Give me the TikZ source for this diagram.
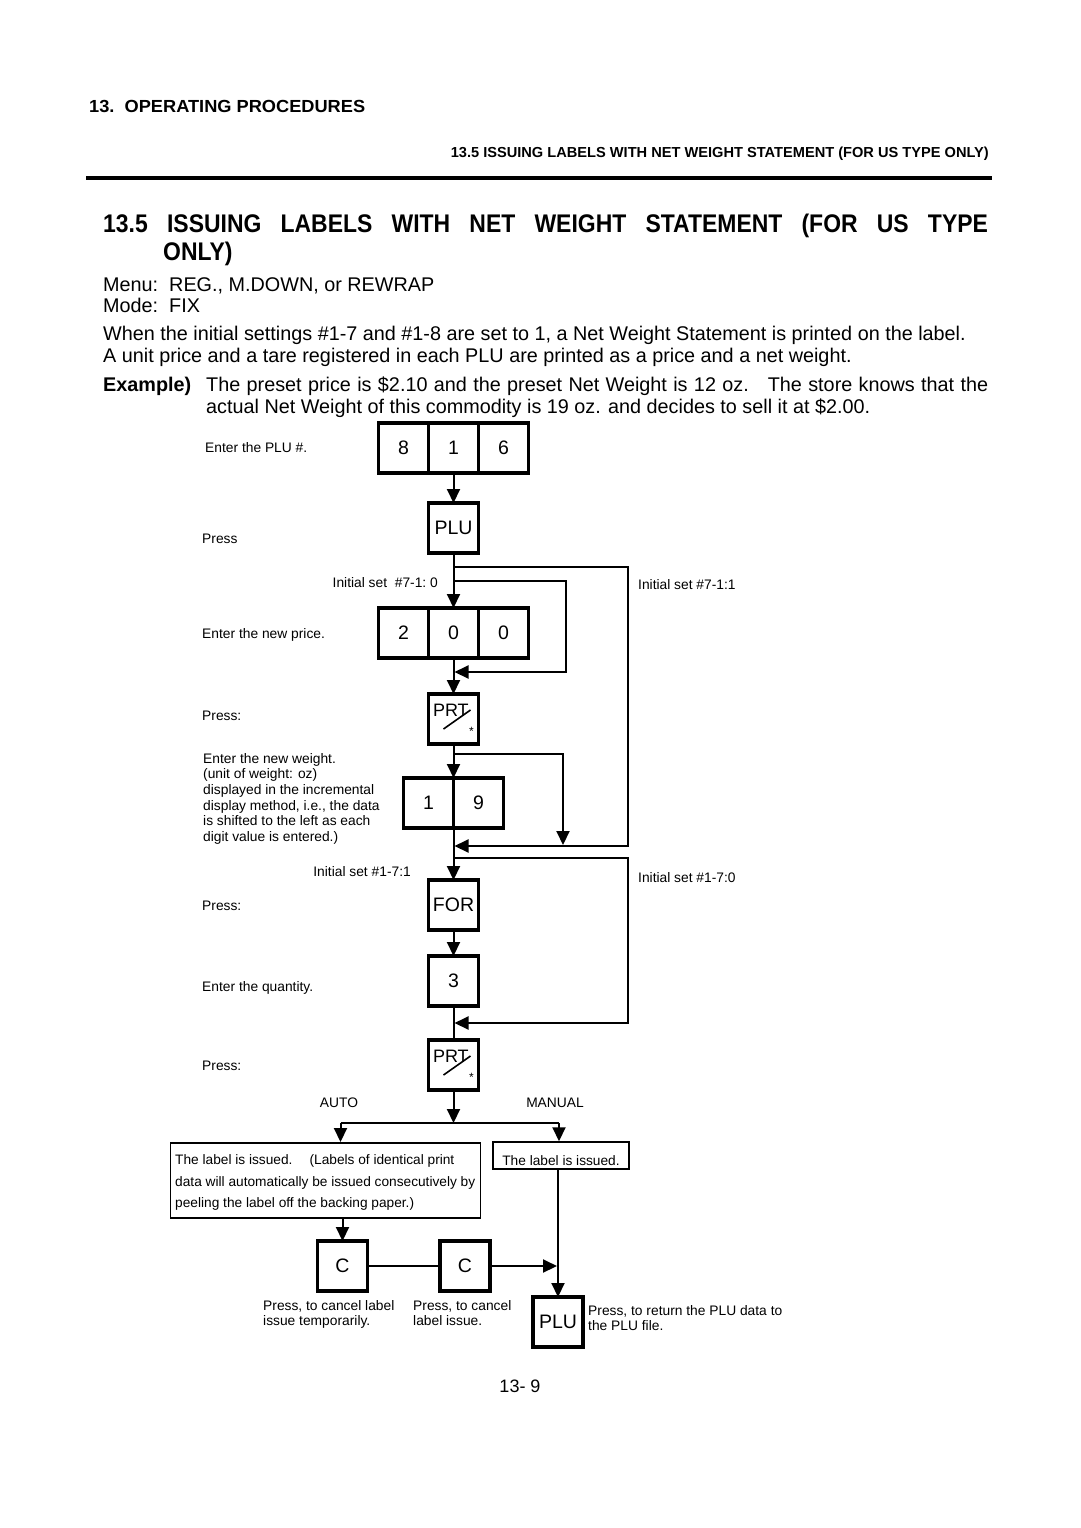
\documentclass[tikz,border=0pt]{standalone}
\usepackage{fontspec}
\setmainfont{Liberation Sans}
\usepackage{graphicx}
\usetikzlibrary{arrows.meta, positioning, calc}

\newcommand{\bodyfont}{\fontsize{19.8}{22}\selectfont}
\newcommand{\notefont}{\fontsize{13.8}{15.6}\selectfont}
\newcommand{\keyfont}{\fontsize{19.5}{19.5}\selectfont}

\begin{document}
\begin{tikzpicture}[x=1pt, y=-1pt,
    key/.style={draw, line width=3.2pt, minimum width=50pt, minimum height=50pt, inner sep=0pt, outer sep=0pt, font=\keyfont},
    prtkey/.style={key, path picture={
        \node[draw=none, minimum size=0pt, anchor=base west, inner sep=0pt, font=\fontsize{18}{18}\selectfont] at ([shift={(4.5pt,-22pt)}]path picture bounding box.north west) {PRT};
        \draw[line width=1.6pt] ([shift={(15pt,15pt)}]path picture bounding box.south west) -- ([shift={(42pt,34pt)}]path picture bounding box.south west);
        \node[draw=none, minimum size=0pt, inner sep=0pt, font=\fontsize{12}{12}\selectfont] at ([shift={(43pt,13pt)}]path picture bounding box.south west) {*};
    }},
    note/.style={anchor=base west, inner sep=0pt, font=\notefont},
    body/.style={anchor=base west, inner sep=0pt, font=\bodyfont},
    msgbox/.style={draw, line width=1.5pt, inner sep=0pt, font=\fontsize{13.7}{21.5}\selectfont, align=left},
    flow/.style={line width=2pt},
    tip/.style={flow, -{Triangle[width=13pt,length=14pt]}}
]
    \fill[white] (0,0) rectangle (1080,1528);
    \useasboundingbox (0,0) rectangle (1080,1528);

    % Page heading
    \node (chap) [anchor=base west, inner sep=0pt] at (89,112) {\resizebox{276pt}{\height}{\fontsize{17.5}{17.5}\selectfont\bfseries 13.\ \ OPERATING PROCEDURES}};
    \node (sect) [anchor=base east, inner sep=0pt] at (989,157) {\resizebox{538pt}{\height}{\fontsize{14.5}{14.5}\selectfont\bfseries 13.5 ISSUING LABELS WITH NET WEIGHT STATEMENT (FOR US TYPE ONLY)}};
    \draw[line width=4.5pt] (86,178) -- (992,178);

    % Section title and text
    \node (title) [anchor=base west, inner sep=0pt] at (103,232) {\scalebox{0.9}[1]{\makebox[983pt][s]{\fontsize{25.5}{25.5}\selectfont\bfseries 13.5 ISSUING LABELS WITH NET WEIGHT STATEMENT (FOR US TYPE}}};
    \node (title2) [anchor=base west, inner sep=0pt] at (163,260) {\scalebox{0.9}[1]{\fontsize{25.5}{25.5}\selectfont\bfseries ONLY)}};
    \node (menu) [body] at (103,291) {Menu:\ \ REG., M.DOWN, or REWRAP};
    \node (mode) [body] at (103,312) {Mode:\ \ FIX};
    \node (when) [body] at (103,340) {When the initial settings \#1-7 and \#1-8 are set to 1, a Net Weight Statement is printed on the label.};
    \node (unit) [body] at (103,362) {A unit price and a tare registered in each PLU are printed as a price and a net weight.};
    \node (exlbl) [body, font=\bodyfont\bfseries] at (103,391) {Example)};
    \node (ex1) [body] at (206,391) {\makebox[782pt][s]{The preset price is \$2.10 and the preset Net Weight is 12 oz.\ \ \ The store knows that the}};
    \node (ex2) [body] at (206,413) {actual Net Weight of this commodity is 19 oz. and decides to sell it at \$2.00.};

    % Keys
    \node (k8) [key] at (403.5,448) {8};
    \node (k1) [key] at (453.5,448) {1};
    \node (k6) [key] at (503.5,448) {6};
    \node (plu) [key] at (453.5,528) {PLU};
    \node (k2) [key] at (403.5,633) {2};
    \node (k0a) [key] at (453.5,633) {0};
    \node (k0b) [key] at (503.5,633) {0};
    \node (prt1) [prtkey] at (453.5,719) {};
    \node (k19a) [key] at (428.5,803) {1};
    \node (k19b) [key] at (478.5,803) {9};
    \node (for) [key] at (453.5,905) {FOR};
    \node (k3) [key] at (453.5,981) {3};
    \node (prt2) [prtkey] at (453.5,1065) {};
    \node (auto) [msgbox, anchor=north west, minimum width=310pt, minimum height=75pt, inner xsep=4pt] at (169.5,1142) {\rule{0pt}{15pt}The label is issued.\hspace{1.25em}(Labels of identical print\\data will automatically be issued consecutively by\\peeling the label off the backing paper.)};
    \node (manual) [msgbox, minimum width=136pt, minimum height=27pt, text height=19pt, text depth=0pt] at (561,1155.5) {The label is issued.};
    \node (c1) [key] at (342.5,1266) {C};
    \node (c2) [key] at (465,1266) {C};
    \node (plu2) [key] at (558,1322) {PLU};

    % Left hand notes
    \node (n_plu) [note] at (205,452) {Enter the PLU \#.};
    \node (n_press1) [note] at (202,543) {Press};
    \node (n_price) [note] at (202,638) {Enter the new price.};
    \node (n_press2) [note] at (202,720) {Press:};
    \node (n_weight) [note, anchor=north west, align=left] at (203,753) {Enter the new weight.\\(unit of weight: oz)\\displayed in the incremental\\display method, i.e., the data\\is shifted to the left as each\\digit value is entered.)};
    \node (n_press3) [note] at (202,910) {Press:};
    \node (n_qty) [note] at (202,991) {Enter the quantity.};
    \node (n_press4) [note] at (202,1070) {Press:};
    \node (n_set71a) [note, anchor=base east] at (438,587) {Initial set\ \ \#7-1:\ 0};
    \node (n_set17a) [note, anchor=base east] at (411,876) {Initial set \#1-7:1};
    \node (n_set71b) [note] at (638,589) {Initial set \#7-1:1};
    \node (n_set17b) [note] at (638,882) {Initial set \#1-7:0};
    \node (n_auto) [inner sep=0pt, font=\notefont] at (339,1103) {AUTO};
    \node (n_manual) [inner sep=0pt, font=\notefont] at (555,1103) {MANUAL};
    \node (n_c1) [note, anchor=north west, align=left] at (263,1300) {Press, to cancel label\\issue temporarily.};
    \node (n_c2) [note, anchor=north west, align=left] at (413,1300) {Press, to cancel\\label issue.};
    \node (n_plu2) [note, anchor=north west, align=left] at (588,1305) {Press, to return the PLU data to\\the PLU file.};
    \node (pageno) [inner sep=0pt, font=\fontsize{18}{18}\selectfont] at (520,1386) {13- 9};

    % Branch points
    \coordinate (brA) at (453.5,567);
    \coordinate (turnA) at (628,846);
    \coordinate (joinA) at (454.5,846);
    \coordinate (brB) at (453.5,581);
    \coordinate (turnB) at (566,672);
    \coordinate (joinB) at (454.5,672);
    \coordinate (brC) at (453.5,754);
    \coordinate (endC) at (563,845);
    \coordinate (brD) at (453.5,858);
    \coordinate (turnD) at (628,1023);
    \coordinate (joinD) at (454.5,1023);
    \coordinate (split) at (453.5,1123);
    \coordinate (splitL) at (340.5,1123);
    \coordinate (splitR) at (559,1123);
    \coordinate (joinC) at (557,1266);

    % Flow
    \draw[tip] (k1) -- (plu);
    \draw[tip] (plu) -- (k0a);
    \draw[tip] (brA) -| (turnA) -- (joinA);
    \draw[tip] (brB) -| (turnB) -- (joinB);
    \draw[tip] (k0a) -- (prt1);
    \draw[tip] (prt1) -- (k19a.north east);
    \draw[tip] (brC) -| (endC);
    \draw[tip] (k19a.south east) -- (for);
    \draw[tip] (brD) -| (turnD) -- (joinD);
    \draw[tip] (for) -- (k3);
    \draw[flow] (k3) -- (prt2);
    \draw[tip] (prt2) -- (split);
    \draw[flow] (splitL) -- (splitR);
    \draw[tip] (splitL) -- (splitL |- auto.north);
    \draw[tip] (splitR) -- (splitR |- manual.north);
    \draw[tip] (auto.south -| c1) -- (c1);
    \draw[flow] (c1) -- (c2);
    \draw[tip] (c2) -- (joinC);
    \draw[tip] (manual.south -| plu2) -- (plu2);
\end{tikzpicture}
\end{document}
